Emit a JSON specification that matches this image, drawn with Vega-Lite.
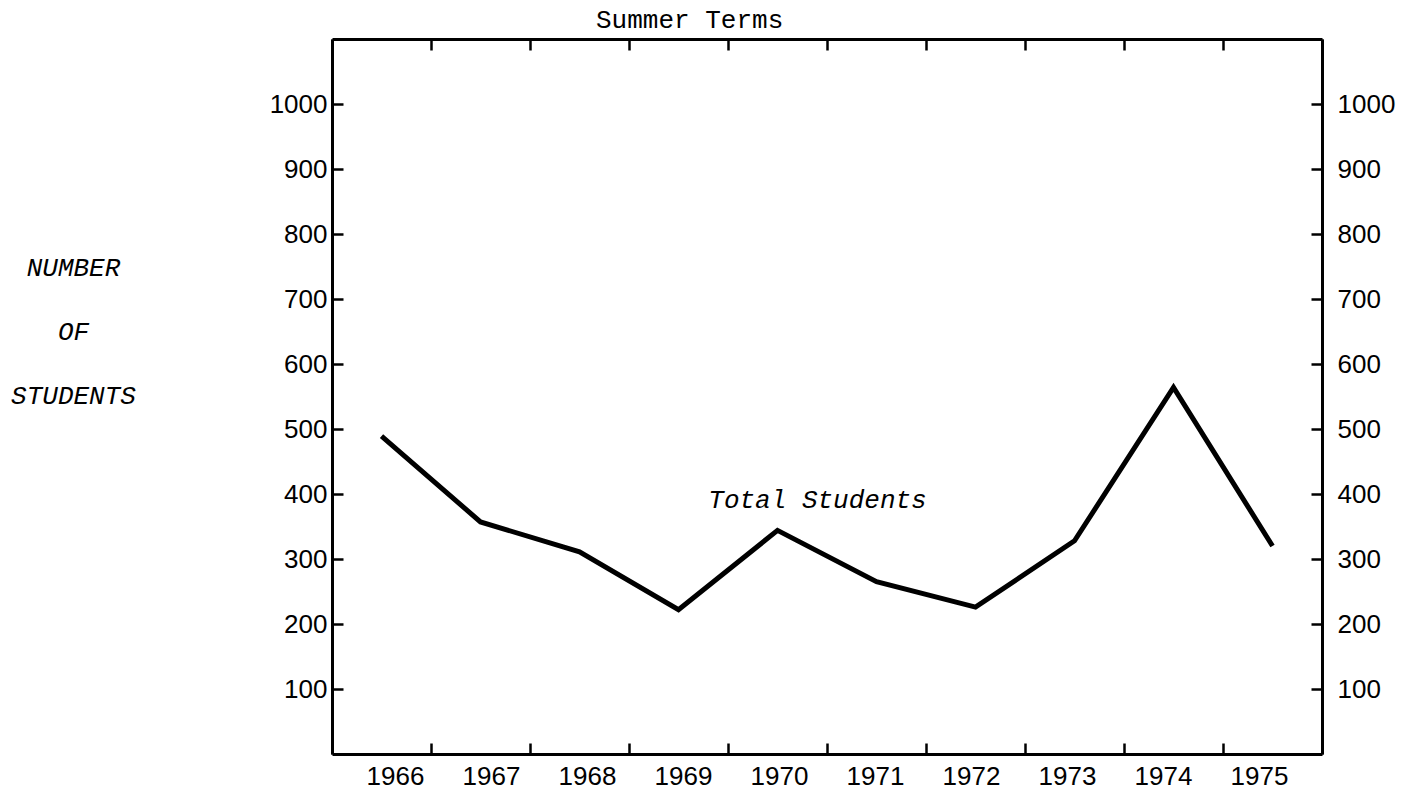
{
  "$schema": "https://vega.github.io/schema/vega-lite/v6.json",
  "width": 990,
  "height": 715,
  "autosize": {"type": "none"},
  "padding": {"left": 332, "top": 39, "right": 94, "bottom": 39},
  "background": "white",
  "config": {
    "view": {"stroke": null},
    "axis": {
      "domainColor": "black",
      "domainWidth": 3,
      "tickColor": "black",
      "tickWidth": 2.5,
      "tickSize": -11,
      "grid": false,
      "labelFont": "Liberation Sans",
      "labelFontSize": 26,
      "labelColor": "black",
      "labelFontWeight": "normal"
    }
  },
  "title": {
    "text": "Summer Terms",
    "font": "Liberation Mono",
    "fontSize": 26,
    "fontWeight": "normal",
    "color": "black",
    "anchor": "start",
    "frame": "group",
    "dx": 264,
    "offset": -16,
    "baseline": "alphabetic"
  },
  "layer": [
    {
      "data": {
        "values": [
          {"year": 1966, "students": 489},
          {"year": 1967, "students": 357},
          {"year": 1968, "students": 311},
          {"year": 1969, "students": 222},
          {"year": 1970, "students": 344},
          {"year": 1971, "students": 265},
          {"year": 1972, "students": 226},
          {"year": 1973, "students": 328},
          {"year": 1974, "students": 564},
          {"year": 1975, "students": 320}
        ]
      },
      "mark": {"type": "line", "color": "black", "strokeWidth": 5, "strokeJoin": "miter"},
      "encoding": {
        "x": {
          "field": "year",
          "type": "ordinal",
          "scale": {"type": "band", "paddingInner": 0, "paddingOuter": 0},
          "axis": {
            "orient": "bottom",
            "title": null,
            "tickBand": "extent",
            "labelAngle": 0,
            "labelPadding": 20,
            "labelBaseline": "top",
            "labelOffset": {"expr": "(1970.5 - datum.value) * 3"}
          }
        },
        "y": {
          "field": "students",
          "type": "quantitative",
          "scale": {"domain": [0, 1100], "nice": false, "zero": true},
          "axis": {
            "orient": "left",
            "values": [100, 200, 300, 400, 500, 600, 700, 800, 900, 1000],
            "format": "d",
            "labelPadding": 16,
            "title": ["NUMBER", "OF", "STUDENTS"],
            "titleFont": "Liberation Mono",
            "titleFontStyle": "italic",
            "titleFontSize": 26,
            "titleFontWeight": "normal",
            "titleColor": "black",
            "titleAngle": 0,
            "titleAlign": "center",
            "titleBaseline": "alphabetic",
            "titleX": -259,
            "titleY": 236,
            "titleLineHeight": 64
          }
        }
      }
    },
    {
      "data": {
        "values": [
          {"year": 1970, "students": 391, "label": "Total Students"}
        ]
      },
      "mark": {
        "type": "text",
        "font": "Liberation Mono",
        "fontStyle": "italic",
        "fontSize": 26,
        "color": "black",
        "align": "center",
        "baseline": "middle",
        "dx": 40
      },
      "encoding": {
        "x": {
          "field": "year",
          "type": "ordinal",
          "axis": {
            "orient": "top",
            "title": null,
            "tickBand": "extent",
            "labels": false
          }
        },
        "y": {
          "field": "students",
          "type": "quantitative",
          "axis": {
            "orient": "right",
            "title": null,
            "values": [100, 200, 300, 400, 500, 600, 700, 800, 900, 1000],
            "format": "d",
            "labelPadding": 26
          }
        },
        "text": {"field": "label"}
      }
    }
  ],
  "resolve": {"axis": {"x": "independent", "y": "independent"}}
}
